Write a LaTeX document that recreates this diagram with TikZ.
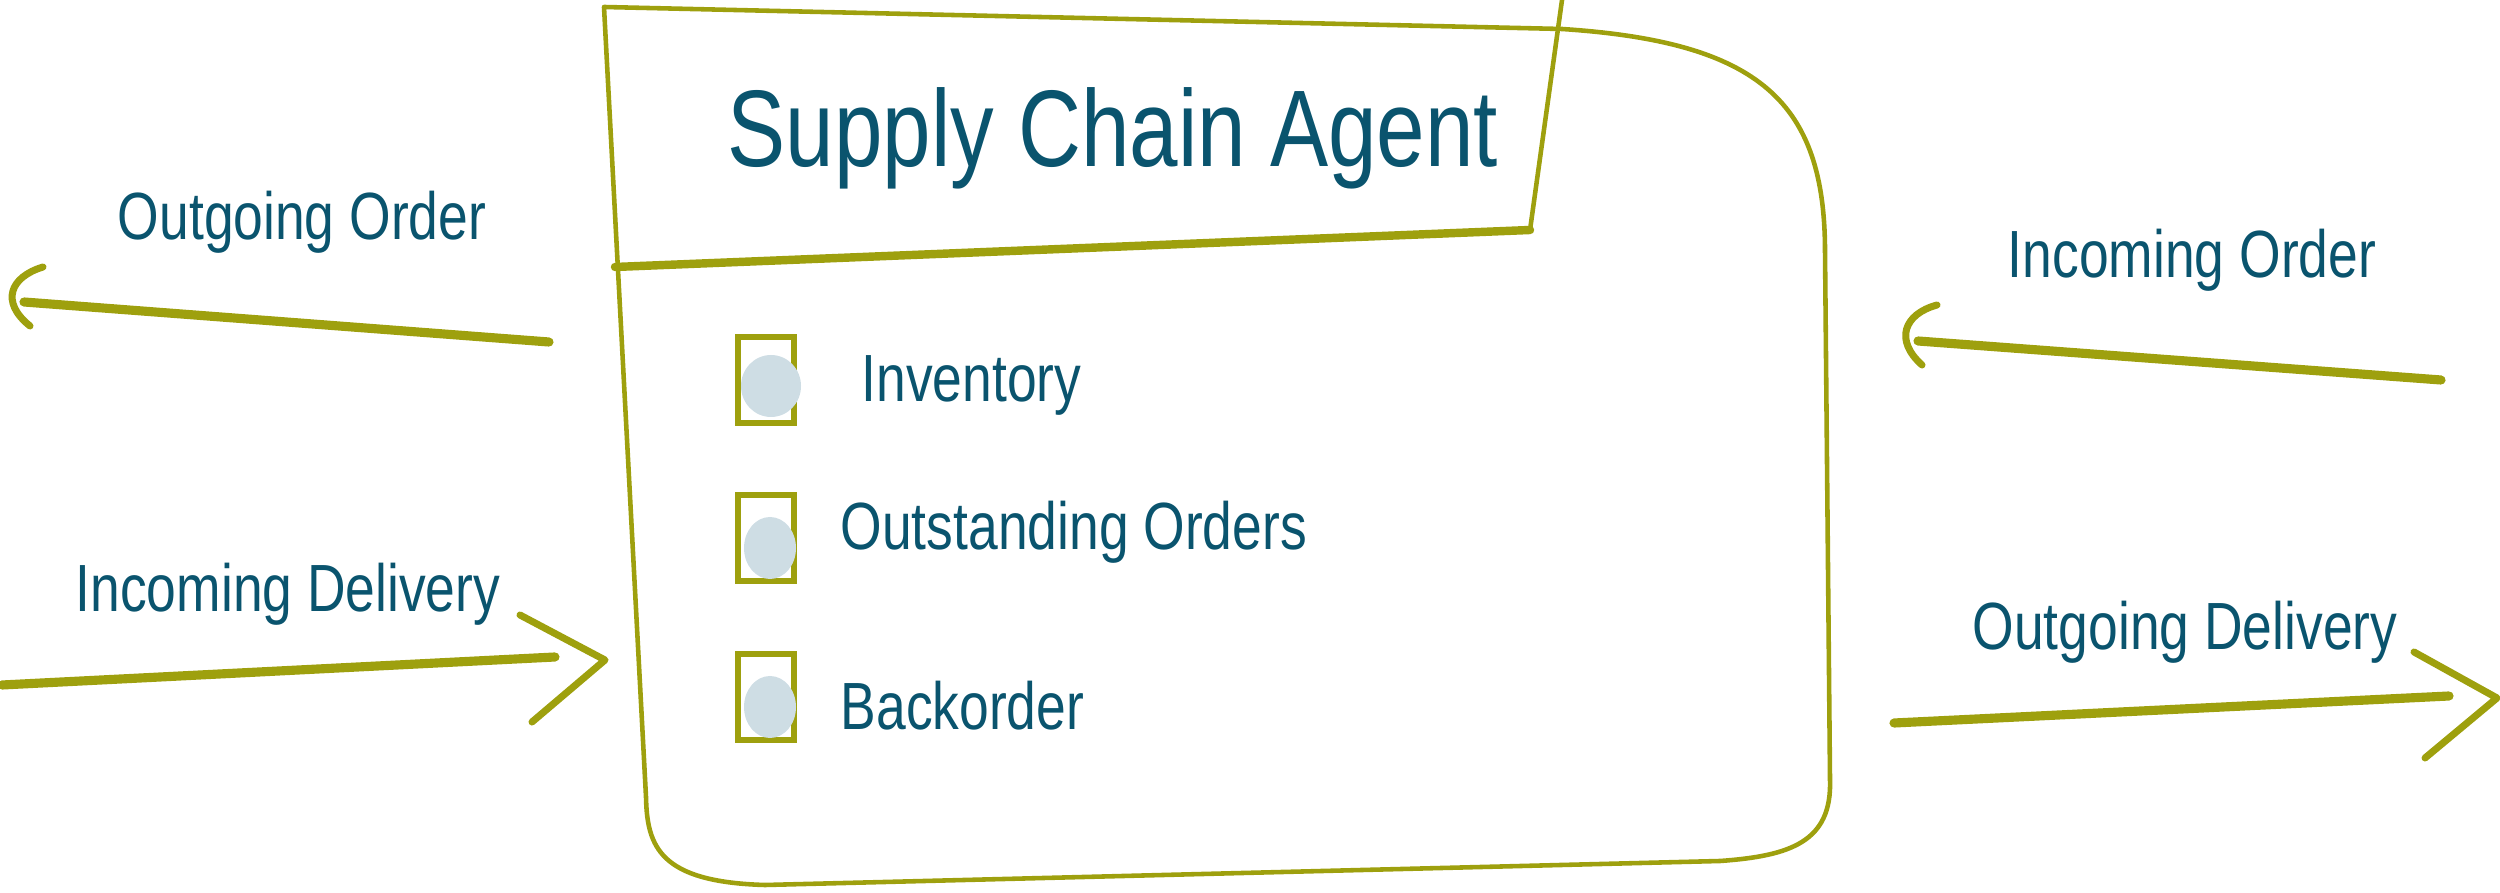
\documentclass[tikz,border=0pt]{standalone}
\usepackage{fontspec}
\setmainfont{Liberation Sans}
\usepackage{graphicx}
\usepackage{xcolor}
\definecolor{sketchgreen}{RGB}{158,160,14}
\definecolor{inkblue}{RGB}{10,84,110}
\definecolor{blobgray}{RGB}{206,221,228}
\usetikzlibrary{
  arrows.meta,
  positioning,
  shapes.geometric,
  calc
}
\newcommand{\hand}[1]{\scalebox{0.8}[1]{#1}}

\begin{document}
\begin{tikzpicture}[
  frame/.style={draw=sketchgreen, line width=1.3pt, line cap=round, line join=round},
  bar/.style={draw=sketchgreen, line width=2.4pt, line cap=round},
  flow/.style={draw=sketchgreen, line width=2.6pt, line cap=round, line join=round},
  hook/.style={draw=sketchgreen, line width=2pt, line cap=round, line join=round},
  cbox/.style={draw=sketchgreen, line width=1.6pt,
               minimum width=0.56cm, minimum height=0.86cm, inner sep=0pt},
  blob/.style={fill=blobgray, ellipse, minimum height=0.62cm, inner sep=0pt},
  lbl/.style={font=\fontsize{19}{22}\selectfont, text=inkblue, inner sep=0pt},
  ttl/.style={font=\fontsize{31}{36}\selectfont, text=inkblue, inner sep=0pt}
]
\useasboundingbox (0,0) rectangle (25,8.92);

% agent outline
\coordinate (tl) at (6.04,8.85);
\coordinate (bl) at (6.46,0.95);
\draw[frame] (tl) -- (15.62,8.63)
  .. controls (17.6,8.5) and (18.25,7.9) .. (18.25,6.4)
  -- (18.30,1.12)
  .. controls (18.32,0.5) and (17.9,0.36) .. (17.2,0.31)
  -- (7.65,0.07)
  .. controls (6.6,0.1) and (6.47,0.45) .. (bl) -- cycle;

% title box
\coordinate (tr) at (15.62,8.92);
\coordinate (br) at (15.30,6.62);
\coordinate (bb) at (6.15,6.25);
\draw[frame] (tr) -- (br);
\draw[bar] (bb) -- (br);
\node[ttl, anchor=base] (title) at (11.13,7.25) {\hand{Supply Chain Agent}};

% state items
\foreach \n/\y/\bx/\by/\bw/\lx/\ly/\t in {
    inv/5.12/7.71/5.06/0.60/8.61/4.90/Inventory,
    out/3.54/7.70/3.44/0.52/8.40/3.42/Outstanding Orders,
    back/1.95/7.70/1.85/0.52/8.40/1.62/Backorder}{
  \node[cbox] (\n box) at (7.66,\y) {};
  \node[blob, minimum width=\bw cm] (\n blob) at (\bx,\by) {};
  \node[lbl, anchor=base west] (\n) at (\lx,\ly) {\hand{\t}};
}

% outgoing order
\node[lbl, anchor=base] (oo) at (3.02,6.52) {\hand{Outgoing Order}};
\coordinate (oo tail) at (5.49,5.50);
\coordinate (oo tip) at (0.24,5.90);
\coordinate (oo h1) at (0.43,6.25);
\coordinate (oo h2) at (0.30,5.66);
\draw[flow] (oo tail) -- (oo tip);
\draw[hook] (oo h1) .. controls (0.10,6.15) and (0.00,5.90) .. (oo h2);

% incoming delivery
\node[lbl, anchor=base] (id) at (2.88,2.80) {\hand{Incoming Delivery}};
\coordinate (id tail) at (0.02,2.07);
\coordinate (id end) at (5.55,2.35);
\coordinate (id h1) at (5.20,2.77);
\coordinate (id tip) at (6.05,2.32);
\coordinate (id h2) at (5.32,1.70);
\draw[flow] (id tail) -- (id end);
\draw[hook] (id h1) -- (id tip) -- (id h2);

% incoming order
\node[lbl, anchor=base] (io) at (21.92,6.14) {\hand{Incoming Order}};
\coordinate (io tail) at (24.41,5.12);
\coordinate (io tip) at (19.18,5.51);
\coordinate (io h1) at (19.37,5.87);
\coordinate (io h2) at (19.22,5.27);
\draw[flow] (io tail) -- (io tip);
\draw[hook] (io h1) .. controls (19.04,5.78) and (18.94,5.52) .. (io h2);

% outgoing delivery
\node[lbl, anchor=base] (od) at (21.85,2.42) {\hand{Outgoing Delivery}};
\coordinate (od tail) at (18.94,1.69);
\coordinate (od end) at (24.49,1.96);
\coordinate (od h1) at (24.14,2.40);
\coordinate (od tip) at (24.97,1.94);
\coordinate (od h2) at (24.25,1.34);
\draw[flow] (od tail) -- (od end);
\draw[hook] (od h1) -- (od tip) -- (od h2);

\end{tikzpicture}
\end{document}
